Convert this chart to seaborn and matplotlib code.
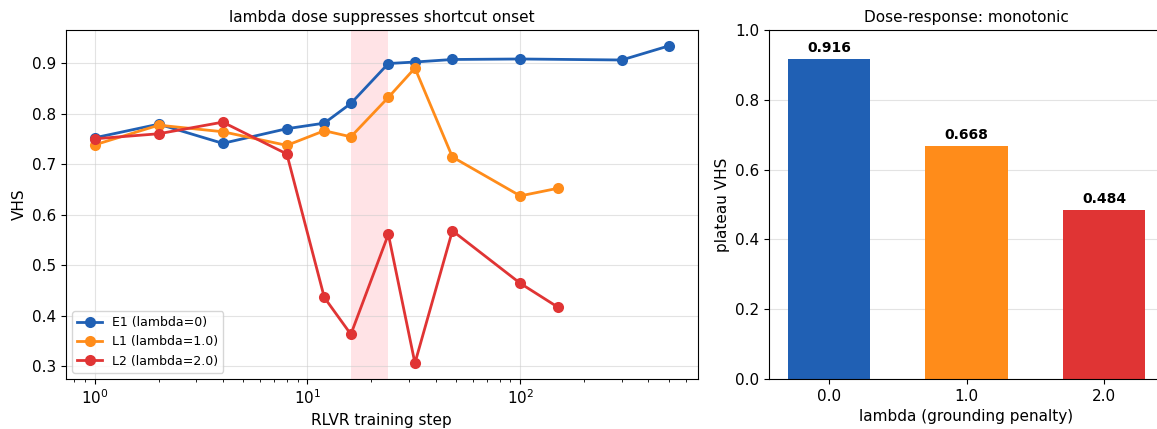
import matplotlib
matplotlib.use("Agg")
import matplotlib.pyplot as plt
import numpy as np
import pandas as pd
import seaborn as sns

# data
e1_steps = [1, 2, 4, 8, 12, 16, 24, 32, 48, 100, 300, 500]
e1_vhs = [0.752, 0.779, 0.741, 0.770, 0.781, 0.820, 0.899, 0.902, 0.907, 0.908, 0.906, 0.934]
l1_steps = [1, 2, 4, 8, 12, 16, 24, 32, 48, 100, 150]
l1_vhs = [0.738, 0.777, 0.764, 0.737, 0.766, 0.754, 0.832, 0.890, 0.714, 0.637, 0.652]
l2_steps = [1, 2, 4, 8, 12, 16, 24, 32, 48, 100, 150]
l2_vhs = [0.750, 0.760, 0.783, 0.720, 0.436, 0.363, 0.561, 0.306, 0.568, 0.464, 0.417]

lambdas = ["0.0", "1.0", "2.0"]
plateau = [0.916, 0.668, 0.484]

colors = ["#2060b4", "#ff8c1a", "#e03434"]

fig = plt.figure(figsize=(11.57, 4.29), dpi=100)
ax1 = fig.add_axes([0.057, 0.1166, 0.546, 0.8135])
ax2 = fig.add_axes([0.6647, 0.1166, 0.3414, 0.8135])

## left: VHS over training steps
series = [("E1 (lambda=0)", e1_steps, e1_vhs),
          ("L1 (lambda=1.0)", l1_steps, l1_vhs),
          ("L2 (lambda=2.0)", l2_steps, l2_vhs)]
for (name, xs, ys), c in zip(series, colors):
    df = pd.DataFrame({"step": xs, "vhs": ys})
    sns.lineplot(data=df, x="step", y="vhs", ax=ax1, color=c, marker="o",
                 markersize=8, markeredgewidth=0, linewidth=2, label=name)

ax1.set_xscale("log")
ax1.axvspan(16, 24, color="#ff5a6e", alpha=0.17, lw=0)
ax1.grid(True, which="major", color="#cccccc", alpha=0.55, lw=0.8)
ax1.set_title("lambda dose suppresses shortcut onset", fontsize=11)
ax1.set_xlabel("RLVR training step", fontsize=11)
ax1.set_ylabel("VHS", fontsize=11)
ax1.tick_params(labelsize=11)
ax1.legend(loc="lower left", fontsize=9)

## right: plateau VHS per lambda
bdf = pd.DataFrame({"lam": lambdas, "vhs": plateau})
sns.barplot(data=bdf, x="lam", y="vhs", hue="lam", palette=colors, ax=ax2,
            width=0.6, legend=False, saturation=1)
for i, v in enumerate(plateau):
    ax2.text(i, v + 0.012, f"{v:.3f}", ha="center", va="bottom",
             fontsize=10, fontweight="bold")
ax2.set_ylim(0, 1.0)
ax2.set_xlim(-0.435, 2.435)
ax2.yaxis.grid(True, color="#cccccc", alpha=0.55, lw=0.8)
ax2.set_axisbelow(True)
for sp in ax2.spines.values():
    sp.set_visible(True)
    sp.set_zorder(5)
ax2.set_title("Dose-response: monotonic", fontsize=11)
ax2.set_xlabel("lambda (grounding penalty)", fontsize=11)
ax2.set_ylabel("plateau VHS", fontsize=11)
ax2.tick_params(labelsize=11)

fig.savefig("out.png", dpi=100)
